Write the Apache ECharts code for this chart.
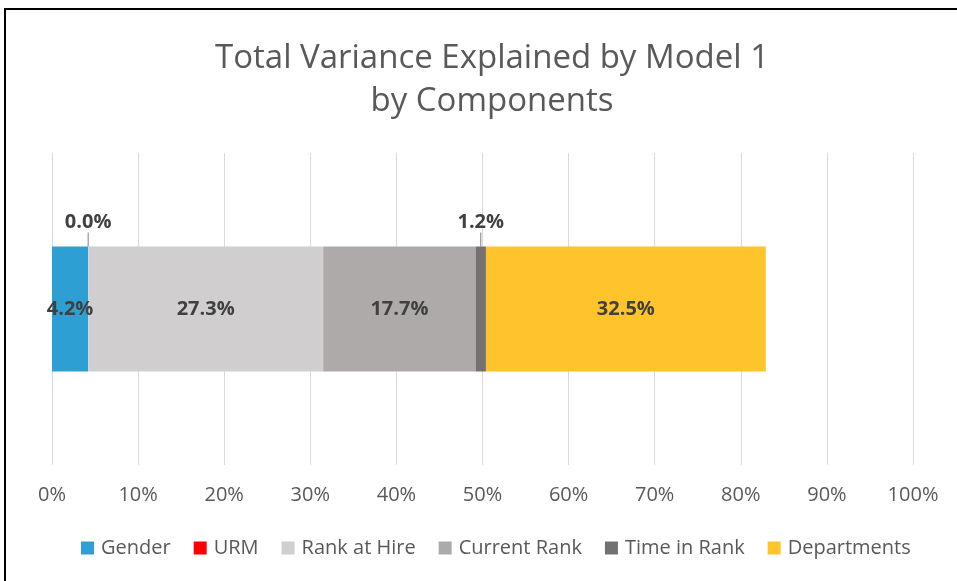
<!DOCTYPE html>
<html>
<head>
<meta charset="utf-8">
<script src="https://cdn.jsdelivr.net/npm/echarts@6/dist/echarts.min.js"></script>
<style>
  html, body { margin: 0; padding: 0; background: #fff; }
  #chart { width: 957px; height: 581px; }
</style>
</head>
<body>
<div id="chart"></div>
<script>
// data
const categories = ["Model 1"];
const seriesNames = ["Gender", "URM", "Rank at Hire", "Current Rank", "Time in Rank", "Departments"];
const seriesValues = [4.2, 0.0, 27.3, 17.7, 1.2, 32.5];
const seriesColors = ["#2E9FD2", "#FF0000", "#D0CECE", "#AEAAAA", "#767171", "#FFC32B"];
const tickLabels = ["0%", "10%", "20%", "30%", "40%", "50%", "60%", "70%", "80%", "90%", "100%"];

const chart = echarts.init(document.getElementById("chart"));
const font = "'Open Sans', sans-serif";

// small slices get their label moved above the bar
const smallOnes = [1, 4];

const series = seriesNames.map((name, i) => {
    const s = {
        name: name,
        type: "bar",
        stack: "total",
        barWidth: 125,
        data: [seriesValues[i]],
        itemStyle: { color: seriesColors[i] },
        label: {
            show: true,
            position: "inside",
            formatter: (p) => p.value.toFixed(1) + "%",
            color: "#404040",
            fontFamily: font,
            fontWeight: "bold",
            fontSize: 20
        }
    };
    if (smallOnes.includes(i)) {
        s.label.position = "top";
        s.label.distance = 14;
        s.labelLine = { show: true, lineStyle: { color: "#808080", width: 1 } };
        s.labelLayout = { dy: 0 };
    }
    return s;
});

const option = {
    animation: false,
    title: {
        text: "Total Variance Explained by Model 1\nby Components",
        left: 487,
        top: 32,
        textAlign: "center",
        textStyle: {
            fontFamily: font,
            fontWeight: "normal",
            fontSize: 33,
            color: "#595959",
            lineHeight: 43
        }
    },
    legend: {
        bottom: 18,
        left: 76,
        itemWidth: 13,
        itemHeight: 13,
        itemGap: 23,
        icon: "rect",
        textStyle: { fontFamily: font, fontSize: 20, color: "#595959", padding: [0, 0, 0, 2] },
        data: seriesNames
    },
    grid: { left: 52, right: 44, top: 153, bottom: 116 },
    xAxis: {
        type: "value",
        min: 0,
        max: 100,
        interval: 10,
        axisLine: { show: false },
        axisTick: { show: false },
        splitLine: { lineStyle: { color: "#D9D9D9", width: 1 } },
        axisLabel: {
            margin: 20,
            fontFamily: font,
            fontSize: 20,
            color: "#595959",
            formatter: (v) => tickLabels[Math.round(v / 10)]
        }
    },
    yAxis: {
        type: "category",
        data: categories,
        axisLine: { show: false },
        axisTick: { show: false },
        axisLabel: { show: false }
    },
    graphic: [{
        type: "rect",
        shape: { x: 5, y: 9, width: 1000, height: 600 },
        style: { fill: null, stroke: "#000", lineWidth: 2 },
        silent: true
    }],
    series: series
};

chart.setOption(option);
</script>
</body>
</html>
